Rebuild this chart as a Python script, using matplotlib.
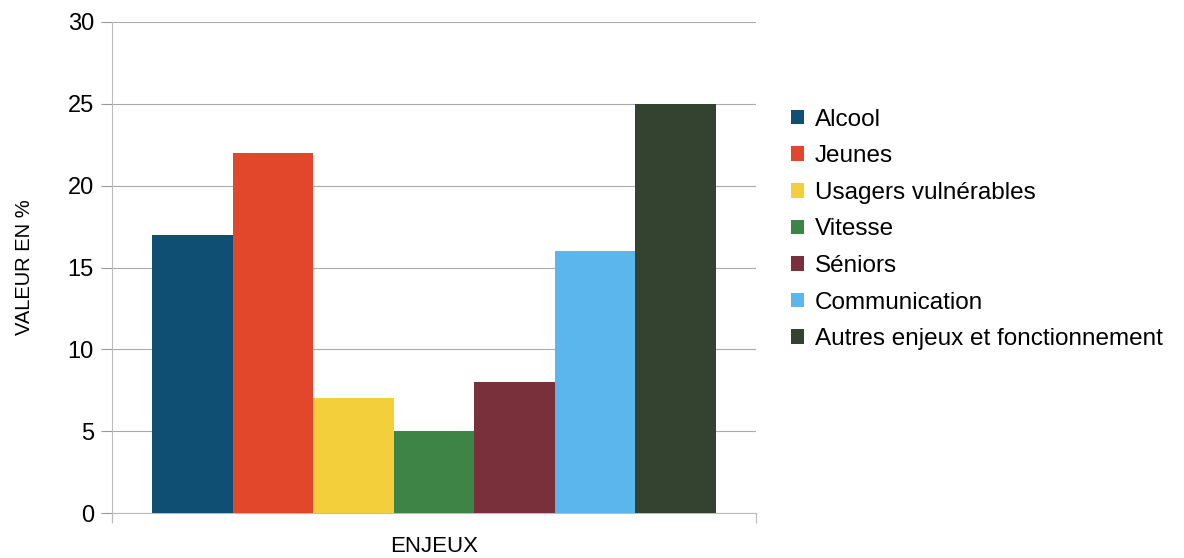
import matplotlib.pyplot as plt
from matplotlib.patches import Patch

plt.rcParams['font.family'] = ['Liberation Sans', 'DejaVu Sans']

# enjeux et parts en %
enjeux = ["Alcool", "Jeunes", "Usagers vulnérables", "Vitesse", "Séniors",
          "Communication", "Autres enjeux et fonctionnement"]
valeurs = [17, 22, 7, 5, 8, 16, 25]
couleurs = ["#0f4f74", "#e2472b", "#f3cf3b", "#3d8446", "#7a303a",
            "#5ab6ec", "#33432f"]

fig = plt.figure(figsize=(11.84, 5.58), dpi=100)
ax = fig.add_axes([112 / 1184, 45 / 558, 644 / 1184, 491 / 558])

x = list(range(len(valeurs)))
ax.bar(x, valeurs, width=1.0, color=couleurs, zorder=3)

ax.set_xlim(-1, len(valeurs))
ax.set_ylim(0, 30)
ax.set_yticks(range(0, 31, 5))
ax.tick_params(axis='y', labelsize=17, length=8, color='#999999', pad=5)
ax.set_xticks([-1, len(valeurs)])
ax.set_xticklabels([])
ax.tick_params(axis='x', length=7, color='#bbbbbb')

ax.yaxis.grid(True, color='#aaaaaa', linewidth=0.8, zorder=0)
for side in ['top', 'right']:
    ax.spines[side].set_visible(False)
ax.spines['bottom'].set_color('#bbbbbb')
ax.spines['left'].set_color('#bbbbbb')
ax.spines['left'].set_linestyle((0, (1, 1)))
ax.spines['left'].set_bounds(-0.5, 30)

ax.set_ylabel("VALEUR EN %", fontsize=14.5, labelpad=24)
ax.set_xlabel("ENJEUX", fontsize=16, labelpad=6)

handles = [Patch(facecolor=c, edgecolor='none') for c in couleurs]
fig.legend(handles, enjeux, loc='upper left', bbox_to_anchor=(781 / 1184, 1 - 99 / 558),
           frameon=False, fontsize=17.5, handlelength=0.55, handleheight=0.55,
           handletextpad=0.45, labelspacing=0.6, borderaxespad=0)

fig.savefig("out.png", dpi=100)
